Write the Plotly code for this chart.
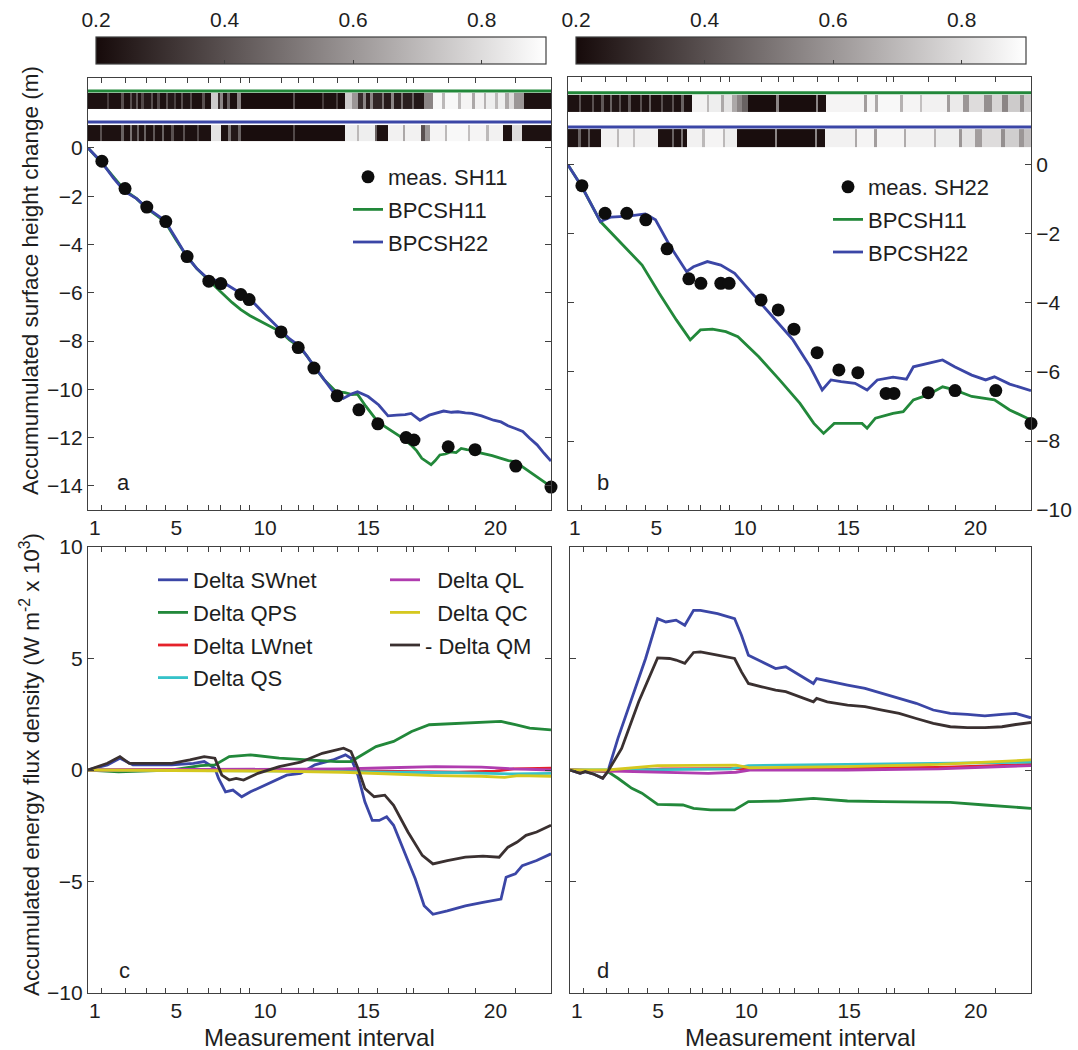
import plotly.graph_objects as go

W, H = 1078, 1050

# ---------------- data ----------------
# measurement times (days, arbitrary origin) bounding the measurement intervals
meas_t = [0, 3.0, 8.0, 12.7, 16.8, 21.4, 26.1, 28.7, 33.0, 34.8, 41.7, 45.4, 48.8,
          53.8, 58.5, 62.6, 68.7, 70.4, 77.8, 83.6, 92.4, 100]
interval_labels = [1, 5, 10, 15, 20]
albedo_ticks = [0.2, 0.4, 0.6, 0.8]

# measured surface height change (m) at meas_t[1:]
sh11 = [-0.55, -1.68, -2.45, -3.05, -4.5, -5.52, -5.62, -6.07, -6.28, -7.62, -8.27,
        -9.12, -10.27, -10.85, -11.43, -12.0, -12.1, -12.38, -12.5, -13.18, -14.05]
sh22 = [-0.6, -1.4, -1.4, -1.59, -2.43, -3.3, -3.43, -3.43, -3.43, -3.91, -4.2,
        -4.76, -5.44, -5.94, -6.02, -6.62, -6.62, -6.6, -6.54, -6.54, -7.49]

# panel a: modelled height change
a_bpc11_t = [0, 3.0, 5.5, 7.9, 10.5, 12.7, 14.5, 16.6, 19.0, 21.2, 23.5, 26.1, 28.6, 31.1,
             33.0, 35.0, 38.5, 41.7, 43.5, 45.7, 47.3, 48.9, 51.0, 53.6, 55.5, 57.0, 58.2,
             60.0, 62.6, 64.2, 65.9, 67.8, 69.8, 71.0, 72.1, 73.2, 74.1, 75.0, 76.0, 77.2,
             78.3, 79.5, 80.6, 81.8, 82.9, 84.0, 85.3, 87.3, 89.2, 90.8, 92.3, 93.8, 95.3,
             96.9, 98.5, 100]
a_bpc11_y = [0, -0.62, -1.2, -1.75, -2.1, -2.5, -2.75, -3.05, -3.8, -4.45, -5.0, -5.5,
             -5.95, -6.4, -6.7, -6.95, -7.3, -7.63, -7.95, -8.25, -8.62, -9.08, -9.6,
             -10.1, -10.14, -10.22, -10.2, -10.7, -11.35, -11.55, -11.76, -12.0, -12.31,
             -12.55, -12.86, -13.0, -13.12, -12.95, -12.72, -12.68, -12.59, -12.62,
             -12.45, -12.5, -12.52, -12.6, -12.65, -12.75, -12.86, -12.95, -13.0, -13.2,
             -13.4, -13.6, -13.82, -14.03]
a_bpc22_t = [0, 3.0, 5.5, 7.9, 10.5, 12.7, 14.5, 16.6, 19.0, 21.2, 23.5, 26.1, 28.6, 30.8,
             32.8, 35.0, 38.5, 41.7, 43.5, 45.7, 47.3, 48.9, 51.0, 53.6, 55.1, 57.0, 58.2,
             60.5, 62.8, 64.8, 66.7, 68.5, 69.8, 71.7, 73.7, 75.3, 76.8, 78.5, 79.9, 81.5,
             82.9, 85.0, 87.6, 89.2, 90.7, 92.3, 93.9, 95.4, 97.0, 98.5, 100]
a_bpc22_y = [0, -0.6, -1.25, -1.8, -2.1, -2.48, -2.72, -3.0, -3.75, -4.45, -5.0, -5.45,
             -5.5, -5.75, -5.98, -6.26, -6.95, -7.55, -7.9, -8.2, -8.6, -9.05, -9.6,
             -10.27, -10.38, -10.18, -10.1, -10.3, -10.65, -11.1, -11.07, -11.05, -11.0,
             -11.28, -11.07, -10.98, -10.9, -10.95, -10.93, -10.98, -11.0, -11.1, -11.28,
             -11.35, -11.51, -11.62, -11.75, -12.03, -12.3, -12.65, -12.97]

# panel b: modelled height change
b_bpc11_t = [0, 3, 7, 10.8, 16, 19.7, 23.4, 26.4, 28.6, 31.2, 34.1, 36.7, 41.2, 45.7, 50.1,
             53.1, 55.2, 57.5, 60.5, 63.5, 64.6, 66.4, 70.2, 72.4, 74.6, 77.6, 80.9, 83.5,
             87.2, 92.1, 95.4, 100]
b_bpc11_y = [0, -0.63, -1.64, -2.17, -2.9, -3.72, -4.49, -5.07, -4.78, -4.76, -4.83,
             -4.98, -5.56, -6.23, -6.91, -7.49, -7.78, -7.49, -7.49, -7.49, -7.63, -7.34,
             -7.2, -7.15, -6.81, -6.67, -6.43, -6.52, -6.71, -6.81, -7.1, -7.39]
b_bpc22_t = [0, 3, 7, 9.3, 13, 16.7, 18.9, 21.9, 25.6, 27.1, 30.1, 33, 36, 39.7, 44.2,
             48.6, 52.3, 54.9, 56.8, 59, 62, 64.6, 66.8, 70.2, 73.1, 74.6, 77.6, 80.9,
             83.5, 87.2, 90.2, 92.1, 95.4, 100]
b_bpc22_y = [0, -0.63, -1.64, -1.51, -1.48, -1.42, -1.59, -2.32, -3.09, -2.95, -2.8,
             -2.9, -3.14, -3.72, -4.4, -5.07, -5.85, -6.52, -6.23, -6.28, -6.33, -6.52,
             -6.23, -6.15, -6.21, -5.85, -5.75, -5.65, -5.85, -6.09, -6.23, -6.14,
             -6.35, -6.54]

# albedo strips: bin edges (days) and albedo values
a1_edges = [0, 4.0, 4.5, 7.2, 7.8, 9.0, 9.5, 10.3, 10.9, 11.5, 12.0, 13.5, 14.0, 15.0,
            15.5, 16.8, 17.3, 18.5, 19.0, 20.0, 20.5, 22.0, 22.5, 24.7, 25.2, 26.6, 28.1,
            28.6, 29.2, 30.0, 30.6, 32.2, 33.1, 44.3, 44.8, 50.5, 51.0, 53.5, 54.0, 55.4,
            57.0, 58.3, 59.5, 60.0, 61.0, 61.5, 63.5, 64.0, 65.5, 66.0, 67.5, 68.0, 70.0,
            70.5, 72.5, 74.5, 76.5, 77.0, 80.0, 80.5, 83.0, 83.5, 85.5, 86.0, 88.0, 88.5,
            90.0, 91.0, 92.0, 94.2, 100]
a1_vals = [0.22, 0.35, 0.22, 0.40, 0.22, 0.40, 0.24, 0.42, 0.22, 0.38,
           0.24, 0.40, 0.22, 0.38, 0.22, 0.40, 0.24, 0.36, 0.22, 0.40,
           0.23, 0.38, 0.22, 0.40, 0.22, 0.75, 0.30, 0.55, 0.22, 0.45,
           0.22, 0.55, 0.21, 0.40, 0.21, 0.35, 0.22, 0.35, 0.21, 0.75,
           0.60, 0.30, 0.55, 0.25, 0.55, 0.28, 0.50, 0.25, 0.55, 0.25,
           0.50, 0.26, 0.45, 0.24, 0.55, 0.88, 0.70, 0.88, 0.70, 0.87,
           0.65, 0.86, 0.68, 0.85, 0.70, 0.85, 0.65, 0.80, 0.60, 0.22]
a2_edges = [0, 2.5, 3.0, 7.2, 7.7, 9.0, 9.6, 10.5, 11.0, 12.0, 12.5, 14.0, 14.5, 16.0,
            16.5, 18.0, 18.5, 20.5, 21.0, 23.5, 24.0, 26.6, 28.8, 30.3, 30.8, 32.5, 33.1,
            44.3, 44.8, 55.4, 58.0, 58.5, 61.9, 62.5, 64.8, 68.0, 68.5, 72.0, 72.7, 73.8,
            77.0, 77.5, 82.0, 82.5, 86.0, 86.5, 89.6, 91.5, 93.8, 100]
a2_vals = [0.22, 0.40, 0.22, 0.45, 0.22, 0.50, 0.24, 0.45, 0.22, 0.45,
           0.22, 0.42, 0.22, 0.45, 0.22, 0.40, 0.22, 0.40, 0.22, 0.38,
           0.22, 0.82, 0.22, 0.50, 0.24, 0.45, 0.21, 0.38, 0.21, 0.85,
           0.70, 0.85, 0.45, 0.22, 0.86, 0.65, 0.86, 0.40, 0.60, 0.87,
           0.70, 0.88, 0.72, 0.87, 0.70, 0.86, 0.22, 0.80, 0.22]
b1_edges = [0, 2.3, 2.8, 5.2, 5.7, 7.2, 7.8, 9.0, 9.5, 11.0, 11.5, 13.0, 13.5, 15.5, 16.0,
            17.5, 18.0, 20.0, 20.5, 22.5, 23.0, 24.5, 25.0, 26.7, 30.0, 30.5, 33.0, 33.6,
            35.5, 36.4, 37.5, 38.9, 45.0, 45.5, 53.5, 54.0, 55.8, 64.0, 64.5, 66.3, 67.0,
            71.8, 72.3, 76.0, 76.5, 81.8, 82.4, 85.3, 86.7, 89.8, 91.5, 93.8, 95.0, 97.7,
            98.5, 100]
b1_vals = [0.22, 0.40, 0.22, 0.40, 0.22, 0.42, 0.22, 0.45, 0.23, 0.40,
           0.22, 0.42, 0.22, 0.40, 0.22, 0.45, 0.22, 0.40, 0.23, 0.40,
           0.22, 0.45, 0.22, 0.86, 0.70, 0.85, 0.65, 0.82, 0.65, 0.55,
           0.45, 0.21, 0.55, 0.21, 0.55, 0.22, 0.87, 0.62, 0.87, 0.65,
           0.88, 0.68, 0.87, 0.72, 0.86, 0.62, 0.84, 0.60, 0.80, 0.58,
           0.78, 0.55, 0.75, 0.58, 0.75]
b2_edges = [0, 2.2, 2.7, 4.3, 4.8, 7.2, 10.5, 11.0, 14.0, 14.5, 19.5, 22.5, 23.0, 24.3,
            24.8, 25.6, 29.0, 29.5, 33.5, 34.0, 36.4, 44.6, 45.1, 53.3, 53.8, 55.5, 62.0,
            62.5, 66.0, 66.7, 72.5, 73.0, 79.0, 79.5, 84.5, 85.2, 88.0, 89.5, 93.5, 94.3,
            97.5, 98.5, 100]
b2_vals = [0.22, 0.45, 0.22, 0.45, 0.22, 0.86, 0.70, 0.86, 0.72, 0.86,
           0.22, 0.45, 0.22, 0.50, 0.22, 0.86, 0.70, 0.87, 0.70, 0.85,
           0.21, 0.55, 0.21, 0.55, 0.22, 0.86, 0.65, 0.87, 0.62, 0.87,
           0.66, 0.86, 0.68, 0.85, 0.60, 0.82, 0.62, 0.80, 0.58, 0.76,
           0.60, 0.72]

# panel c: accumulated energy flux density (W m-2 x 10^3)
c_swnet_t = [0, 4.2, 6.9, 9.7, 18.1, 22.8, 25.1, 27.4, 28.2, 29.7, 31.3, 33.2, 35.1, 39.8,
             42.9, 45.9, 49.0, 52.9, 55.6, 56.8, 58.3, 59.8, 61.4, 62.9, 64.5, 66.0, 68.3,
             70.7, 72.6, 74.5, 77.6, 81.5, 85.3, 87.3, 89.2, 90.3, 92.3, 93.8, 96.9, 100]
c_swnet_y = [0, 0.23, 0.53, 0.23, 0.23, 0.3, 0.38, 0.08, -0.38, -0.98, -0.9, -1.2, -0.98,
             -0.53, -0.23, -0.15, 0.23, 0.45, 0.68, 0.53, -0.23, -1.43, -2.26, -2.26,
             -2.1, -2.48, -3.68, -4.89, -6.09, -6.47, -6.32, -6.09, -5.94, -5.86, -5.79,
             -4.81, -4.66, -4.29, -4.06, -3.76]
c_qps_t = [0, 6.6, 18.1, 24.3, 27.4, 30.5, 35.1, 41.3, 47.5, 53.7, 56.8, 59.1, 62.2, 66.0,
           69.9, 73.7, 81.5, 89.2, 92.3, 95.4, 100]
c_qps_y = [0, -0.08, 0, 0.2, 0.23, 0.6, 0.68, 0.53, 0.45, 0.38, 0.38, 0.68, 1.05, 1.28,
           1.73, 2.03, 2.1, 2.18, 2.03, 1.88, 1.8]
c_lw_t = [0, 20, 40, 55, 65, 80, 88, 92, 100]
c_lw_y = [0, 0.02, 0, -0.03, -0.08, -0.1, -0.05, 0.05, 0.08]
c_qs_t = [0, 30, 50, 65, 80, 92, 100]
c_qs_y = [0, -0.02, -0.05, -0.1, -0.12, -0.18, -0.15]
c_ql_t = [0, 30, 55, 65, 75, 85, 92, 100]
c_ql_y = [0, 0.02, 0.05, 0.1, 0.15, 0.13, 0.05, 0.0]
c_qc_t = [0, 20, 40, 55, 65, 75, 85, 90, 93, 100]
c_qc_y = [0, -0.02, -0.05, -0.1, -0.18, -0.25, -0.28, -0.33, -0.25, -0.28]
c_qm_t = [0, 4.2, 6.9, 8.9, 13.5, 18.1, 22.0, 25.1, 27.4, 28.9, 30.5, 32.0, 33.6, 36.7,
          41.3, 45.9, 50.6, 55.2, 56.8, 58.3, 59.8, 61.8, 64.1, 66.0, 69.1, 72.2, 74.5,
          77.6, 81.5, 85.3, 88.8, 90.7, 92.7, 94.6, 96.9, 100]
c_qm_y = [0, 0.3, 0.6, 0.3, 0.3, 0.3, 0.45, 0.6, 0.53, -0.23, -0.45, -0.38, -0.45, -0.15,
          0.15, 0.35, 0.75, 0.98, 0.83, 0.08, -0.83, -1.2, -1.13, -1.58, -2.78, -3.83,
          -4.21, -4.06, -3.91, -3.86, -3.91, -3.46, -3.23, -2.93, -2.78, -2.48]

# panel d
d_swnet_t = [0, 2.2, 3.3, 5.2, 7.1, 8.2, 10.4, 13.4, 16.4, 19.0, 20.8, 23.0, 24.9, 26.8,
             28.3, 32.0, 35.7, 37.2, 38.7, 41.6, 44.6, 46.8, 49.8, 52.8, 53.5, 55.8, 60.2,
             64.0, 67.7, 71.4, 75.1, 78.8, 82.5, 86.2, 90.0, 93.7, 96.7, 100]
d_swnet_y = [0, -0.15, -0.07, -0.19, -0.37, -0.07, 1.42, 3.21, 5.0, 6.79, 6.64, 6.72,
             6.49, 7.16, 7.16, 7.01, 6.79, 6.04, 5.15, 4.85, 4.55, 4.63, 4.25, 3.88, 4.1,
             3.99, 3.81, 3.66, 3.43, 3.21, 2.99, 2.69, 2.54, 2.49, 2.43, 2.49, 2.54, 2.34]
d_qps_t = [0, 8.2, 10.4, 13.4, 15.6, 19.0, 24.5, 26.8, 30.5, 35.7, 38.7, 45.4, 52.8, 60.2,
           67.7, 82.5, 90.0, 100]
d_qps_y = [0, -0.07, -0.37, -0.82, -1.04, -1.54, -1.57, -1.72, -1.79, -1.79, -1.42, -1.39,
           -1.27, -1.39, -1.42, -1.45, -1.57, -1.72]
d_lw_t = [0, 8.2, 20, 38, 60, 80, 100]
d_lw_y = [0, -0.05, 0.05, 0.05, 0.08, 0.12, 0.25]
d_qs_t = [0, 8.2, 20, 35, 38.7, 60, 80, 100]
d_qs_y = [0, 0, 0.02, 0.05, 0.2, 0.25, 0.3, 0.35]
d_ql_t = [0, 8.2, 20, 30, 36, 39, 60, 80, 100]
d_ql_y = [0, -0.05, -0.12, -0.15, -0.1, 0, 0, 0.05, 0.2]
d_qc_t = [0, 8.2, 19, 36, 39, 60, 80, 100]
d_qc_y = [0, 0, 0.2, 0.22, 0.1, 0.15, 0.25, 0.45]
d_qm_t = [0, 2.2, 3.3, 5.2, 7.1, 8.2, 11.2, 14.9, 19.0, 21.6, 23.0, 24.9, 26.8, 28.3, 32.0,
          35.7, 37.2, 38.7, 41.6, 44.6, 46.8, 49.8, 52.8, 53.5, 55.8, 60.2, 64.0, 67.7,
          71.4, 75.1, 78.8, 82.5, 86.2, 90.0, 93.7, 96.7, 100]
d_qm_y = [0, -0.15, -0.07, -0.19, -0.37, -0.07, 0.97, 3.06, 5.03, 5.0, 4.93, 4.78, 5.27,
          5.3, 5.15, 5.0, 4.4, 3.88, 3.73, 3.58, 3.51, 3.28, 3.06, 3.21, 3.06, 2.91, 2.84,
          2.69, 2.54, 2.31, 2.09, 1.94, 1.9, 1.9, 1.94, 2.04, 2.13]

# ---------------- styling ----------------
FONT = "Liberation Sans, Arial, sans-serif"
BLUE = "#3b46a6"
GREEN = "#22883a"
RED = "#e5222a"
CYAN = "#35c2c9"
MAGENTA = "#b03caf"
YELLOW = "#d5c81f"
DARK = "#3a3030"
AXC = "#404040"
TXT = "#1e1e1e"
GRAYSCALE = [[0, "rgb(22,10,10)"], [1, "rgb(255,255,255)"]]


def px(x):
    return x / W


def py(y):
    return 1 - y / H


PA = (88, 551, 78, 510)
PB = (568, 1031, 77, 510)
PC = (88, 551, 547, 993)
PD = (570, 1031, 547, 993)

label_pos = [(meas_t[i - 1] + meas_t[i]) / 2 for i in interval_labels]

fig = go.Figure()


def line(xa, ya, t, y, color, name=None, legend=None, show=False, width=2.8, rank=None):
    fig.add_trace(go.Scatter(
        x=t, y=y, mode="lines", line=dict(color=color, width=width),
        name=name, showlegend=show, legend=legend, xaxis=xa, yaxis=ya,
        legendgroup=name if show else None, legendrank=rank, hoverinfo="skip"))


def strip(xa, ya, edges, vals, lo, hi, cax):
    fig.add_trace(go.Heatmap(
        x=edges, y=[lo, hi], z=[vals], coloraxis=cax, xaxis=xa, yaxis=ya,
        showlegend=False, hoverinfo="skip"))


def anchor_trace(xa, ya, xs):
    # invisible trace so that label-only axes get drawn
    fig.add_trace(go.Scatter(x=xs, y=[0.5] * len(xs), mode="lines", xaxis=xa, yaxis=ya,
                             line=dict(width=0, color="rgba(0,0,0,0)"),
                             showlegend=False, hoverinfo="skip"))


# panel a strips
strip("x", "y", a1_edges, a1_vals, 1.62, 2.28, "coloraxis")
strip("x", "y", a2_edges, a2_vals, 0.29, 0.95, "coloraxis")
# panel b strips
strip("x2", "y2", b1_edges, b1_vals, 1.54, 2.03, "coloraxis2")
strip("x2", "y2", b2_edges, b2_vals, 0.52, 1.04, "coloraxis2")

# panel a
line("x", "y", a_bpc11_t, a_bpc11_y, GREEN, "BPCSH11", "legend", True, rank=2)
line("x", "y", a_bpc22_t, a_bpc22_y, BLUE, "BPCSH22", "legend", True, rank=3)
fig.add_trace(go.Scatter(x=meas_t[1:], y=sh11, mode="markers", name="meas. SH11",
                         marker=dict(color="#0d0d0d", size=13), cliponaxis=False,
                         legend="legend", legendgroup="m11", legendrank=1,
                         xaxis="x", yaxis="y", hoverinfo="skip"))
# panel b
line("x2", "y2", b_bpc11_t, b_bpc11_y, GREEN, "BPCSH11 ", "legend2", True, rank=2)
line("x2", "y2", b_bpc22_t, b_bpc22_y, BLUE, "BPCSH22 ", "legend2", True, rank=3)
fig.add_trace(go.Scatter(x=meas_t[1:], y=sh22, mode="markers", name="meas. SH22",
                         marker=dict(color="#0d0d0d", size=13), cliponaxis=False,
                         legend="legend2", legendgroup="m22", legendrank=1,
                         xaxis="x2", yaxis="y2", hoverinfo="skip"))

# panel c
line("x3", "y3", c_swnet_t, c_swnet_y, BLUE, "Delta SWnet", "legend3", True, rank=1)
line("x3", "y3", c_qps_t, c_qps_y, GREEN, "Delta QPS", "legend3", True, rank=2)
line("x3", "y3", c_lw_t, c_lw_y, RED, "Delta LWnet", "legend3", True, rank=3)
line("x3", "y3", c_qs_t, c_qs_y, CYAN, "Delta QS", "legend3", True, rank=4)
line("x3", "y3", c_ql_t, c_ql_y, MAGENTA, "\u00a0\u00a0Delta QL", "legend4", True, rank=5)
line("x3", "y3", c_qc_t, c_qc_y, YELLOW, "\u00a0\u00a0Delta QC", "legend4", True, rank=6)
line("x3", "y3", c_qm_t, c_qm_y, DARK, "- Delta QM", "legend4", True, rank=7)
# panel d
line("x4", "y4", d_swnet_t, d_swnet_y, BLUE)
line("x4", "y4", d_qps_t, d_qps_y, GREEN)
line("x4", "y4", d_lw_t, d_lw_y, RED)
line("x4", "y4", d_qs_t, d_qs_y, CYAN)
line("x4", "y4", d_ql_t, d_ql_y, MAGENTA)
line("x4", "y4", d_qc_t, d_qc_y, YELLOW)
line("x4", "y4", d_qm_t, d_qm_y, DARK)

# label-only axes (interval labels under each panel, colourbar labels)
for xa, ya in [("x7", "y"), ("x8", "y2"), ("x9", "y3"), ("x10", "y4")]:
    anchor_trace(xa, ya, [0, 100])
anchor_trace("x5", "y5", [0.2, 0.9])
anchor_trace("x6", "y6", [0.2, 0.9])

# ---------------- axes ----------------
tickfont = dict(family=FONT, size=21, color=TXT)


def xaxis(panel, anchor):
    x0, x1, y0, y1 = panel
    return dict(domain=[px(x0), px(x1)], anchor=anchor, range=[0, 100],
                tickmode="array", tickvals=meas_t[1:-1], showticklabels=False,
                ticks="inside", ticklen=5, tickcolor=AXC, tickwidth=1.2,
                showline=True, linecolor=AXC, linewidth=1.3, mirror="ticks",
                showgrid=False, zeroline=False, fixedrange=True)


def xlabel_axis(base, anchor):
    return dict(overlaying=base, anchor=anchor, side="bottom", range=[0, 100],
                tickmode="array", tickvals=label_pos,
                ticktext=[str(v) for v in interval_labels], ticks="",
                ticklabelstandoff=3,
                showline=False, showgrid=False, zeroline=False, tickfont=tickfont,
                fixedrange=True)


def yaxis(panel, anchor, rng, tv, side="left", labels=True):
    x0, x1, y0, y1 = panel
    return dict(domain=[py(y1), py(y0)], anchor=anchor, range=rng, tickmode="array",
                tickvals=tv, ticks="inside", ticklen=6, tickcolor=AXC, tickwidth=1.2,
                side=side, showticklabels=labels, showline=True, linecolor=AXC,
                linewidth=1.3, mirror="ticks", showgrid=False, zeroline=False,
                tickfont=tickfont, fixedrange=True)


def cbar(x0, x1):
    return dict(orientation="h", x=px((x0 + x1) / 2), xanchor="center", xref="paper",
                len=x1 - x0, lenmode="pixels", thickness=27, thicknessmode="pixels",
                y=py(37), yanchor="top", yref="paper", xpad=0, ypad=0,
                outlinewidth=1.2, outlinecolor=AXC, ticks="inside", ticklen=4,
                tickcolor=AXC, tickmode="array", tickvals=albedo_ticks[1:],
                showticklabels=False)


def cb_label_axis(x0, x1, anchor):
    return dict(domain=[px(x0), px(x1)], anchor=anchor, side="top", range=[0.2, 0.9],
                tickmode="array", tickvals=albedo_ticks,
                ticktext=[f"{v:.1f}" for v in albedo_ticks], ticks="",
                ticklabelstandoff=5,
                showline=False, showgrid=False, zeroline=False,
                tickfont=dict(family=FONT, size=21, color=TXT), fixedrange=True)


CB_L = (96, 546)
CB_R = (576, 1026)

legend_common = dict(bgcolor="rgba(0,0,0,0)", borderwidth=0, xanchor="left",
                     yanchor="top", font=dict(family=FONT, size=22, color=TXT),
                     itemwidth=30, tracegroupgap=1, itemclick=False,
                     itemdoubleclick=False)

fig.update_layout(
    width=W, height=H, margin=dict(l=0, r=0, t=0, b=0, autoexpand=False),
    paper_bgcolor="white", plot_bgcolor="rgba(0,0,0,0)",
    font=dict(family=FONT, color=TXT),
    xaxis=xaxis(PA, "y"),
    yaxis=yaxis(PA, "x", [-15, 2.9], [0, -2, -4, -6, -8, -10, -12, -14]),
    xaxis2=xaxis(PB, "y2"),
    yaxis2=yaxis(PB, "x2", [-10, 2.55], [0, -2, -4, -6, -8, -10], side="right"),
    xaxis3=xaxis(PC, "y3"),
    yaxis3=yaxis(PC, "x3", [-10, 10], [-10, -5, 0, 5, 10]),
    xaxis4=xaxis(PD, "y4"),
    yaxis4=yaxis(PD, "x4", [-10, 10], [-10, -5, 0, 5, 10], labels=False),
    xaxis7=xlabel_axis("x", "y"),
    xaxis8=xlabel_axis("x2", "y2"),
    xaxis9=xlabel_axis("x3", "y3"),
    xaxis10=xlabel_axis("x4", "y4"),
    xaxis5=cb_label_axis(*CB_L, "y5"),
    yaxis5=dict(domain=[py(64), py(37)], anchor="x5", visible=False, range=[0, 1],
                fixedrange=True),
    xaxis6=cb_label_axis(*CB_R, "y6"),
    yaxis6=dict(domain=[py(64), py(37)], anchor="x6", visible=False, range=[0, 1],
                fixedrange=True),
    coloraxis=dict(colorscale=GRAYSCALE, cmin=0.2, cmax=0.9, colorbar=cbar(*CB_L)),
    coloraxis2=dict(colorscale=GRAYSCALE, cmin=0.2, cmax=0.9, colorbar=cbar(*CB_R)),
    legend=dict(legend_common, x=px(348), y=py(156)),
    legend2=dict(legend_common, x=px(828), y=py(166)),
    legend3=dict(legend_common, x=px(153), y=py(559)),
    legend4=dict(legend_common, x=px(385), y=py(559)),
    showlegend=True,
)

# horizontal coloured lines heading each albedo strip
for xr, yr, yv, col in [("x", "y", 2.36, GREEN), ("x", "y", 1.08, BLUE),
                        ("x2", "y2", 2.09, GREEN), ("x2", "y2", 1.10, BLUE)]:
    fig.add_shape(type="line", xref=f"{xr} domain", yref=yr, x0=0, x1=1, y0=yv, y1=yv,
                  line=dict(color=col, width=3))

ann_font = dict(family=FONT, size=22, color=TXT)
title_font = dict(family=FONT, size=22.5, color=TXT)
annotations = [
    dict(text="Accumumulated surface height change (m)", x=px(30), y=py(281),
         textangle=-90, font=title_font),
    dict(text="Accumulated energy flux density (W m<sup>-2</sup> x 10<sup>3</sup>)",
         x=px(30), y=py(765), textangle=-90, font=title_font),
    dict(text="Measurement interval", x=px((PC[0] + PC[1]) / 2), y=py(1037),
         font=dict(family=FONT, size=24, color=TXT)),
    dict(text="Measurement interval", x=px((PD[0] + PD[1]) / 2), y=py(1037),
         font=dict(family=FONT, size=24, color=TXT)),
    dict(text="a", x=px(123), y=py(483), font=ann_font),
    dict(text="b", x=px(603), y=py(483), font=ann_font),
    dict(text="c", x=px(124), y=py(970), font=ann_font),
    dict(text="d", x=px(603), y=py(970), font=ann_font),
]
for a in annotations:
    fig.add_annotation(xref="paper", yref="paper", showarrow=False, xanchor="center",
                       yanchor="middle", **a)

fig.write_html("out.html", config={"displayModeBar": False},
               post_script="document.body.style.margin='0px';")
